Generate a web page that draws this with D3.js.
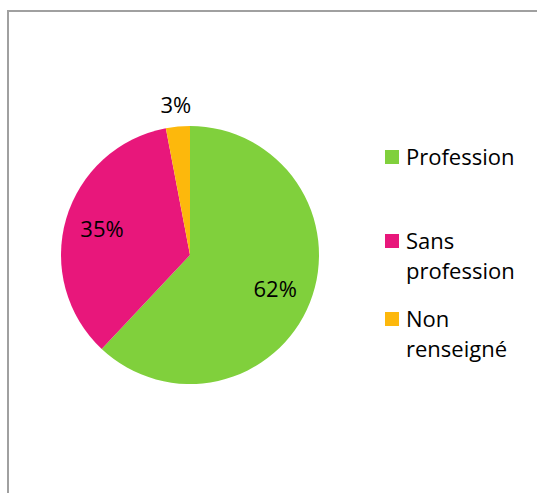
<!DOCTYPE html>
<html>
<head>
<meta charset="utf-8">
<script src="https://cdn.jsdelivr.net/npm/d3@7"></script>
<style>
  body { margin: 0; background: #fff; }
  svg { display: block; }
</style>
</head>
<body>
<svg id="chart" width="537" height="493"></svg>
<script>
// data
let categories = ["Profession", "Sans profession", "Non renseigné"];
let values = [62, 35, 3];
let colors = ["#80d03c", "#e8177b", "#fdb80c"];
let legendLines = [["Profession"], ["Sans", "profession"], ["Non", "renseigné"]];

let svg = d3.select("#chart");
let font = "'Open Sans', sans-serif";

// frame (only left and top edges are visible in the crop)
svg.append("line").attr("x1", 8).attr("y1", 11).attr("x2", 537).attr("y2", 11)
    .style("stroke", "#a0a0a0").style("stroke-width", 2);
svg.append("line").attr("x1", 8).attr("y1", 10).attr("x2", 8).attr("y2", 493)
    .style("stroke", "#a0a0a0").style("stroke-width", 2);

let cx = 190, cy = 255, r = 129;

let pie = d3.pie().sort(null).value((d) => d);
let arcs = pie(values);
let arc = d3.arc().innerRadius(0).outerRadius(r);
let labelArc = d3.arc().innerRadius(r * 0.71).outerRadius(r * 0.71);
let outerArc = d3.arc().innerRadius(r * 1.17).outerRadius(r * 1.17);

let g = svg.append("g").attr("transform", "translate(" + cx + "," + cy + ")");

g.selectAll(".slice").data(arcs).enter().append("path")
    .attr("class", "slice")
    .attr("d", arc)
    .style("fill", (d, i) => colors[i]);

g.selectAll(".dataLabel").data(arcs).enter().append("text")
    .attr("class", "dataLabel")
    .attr("transform", (d) => {
        let p = d.data < 5 ? outerArc.centroid(d) : labelArc.centroid(d);
        return "translate(" + p[0] + "," + p[1] + ")";
    })
    .attr("dy", "0.36em")
    .attr("text-anchor", "middle")
    .style("font-family", font)
    .style("font-size", "22px")
    .style("fill", "#000")
    .text((d) => d.data + "%");

// legend
let legendX = 385;
let legendTops = [150, 234, 312];
let lineH = 30;

let leg = svg.selectAll(".legend").data(categories).enter().append("g")
    .attr("class", "legend")
    .attr("transform", (d, i) => "translate(" + legendX + "," + legendTops[i] + ")");

leg.append("rect")
    .attr("width", 14).attr("height", 14)
    .style("fill", (d, i) => colors[i]);

leg.each(function(d, i){
    let t = d3.select(this).append("text")
        .style("font-family", font)
        .style("font-size", "22px")
        .style("fill", "#000");
    legendLines[i].forEach((s, j) => {
        t.append("tspan").attr("x", 21).attr("y", 15 + j * lineH).text(s);
    });
});
</script>
</body>
</html>
